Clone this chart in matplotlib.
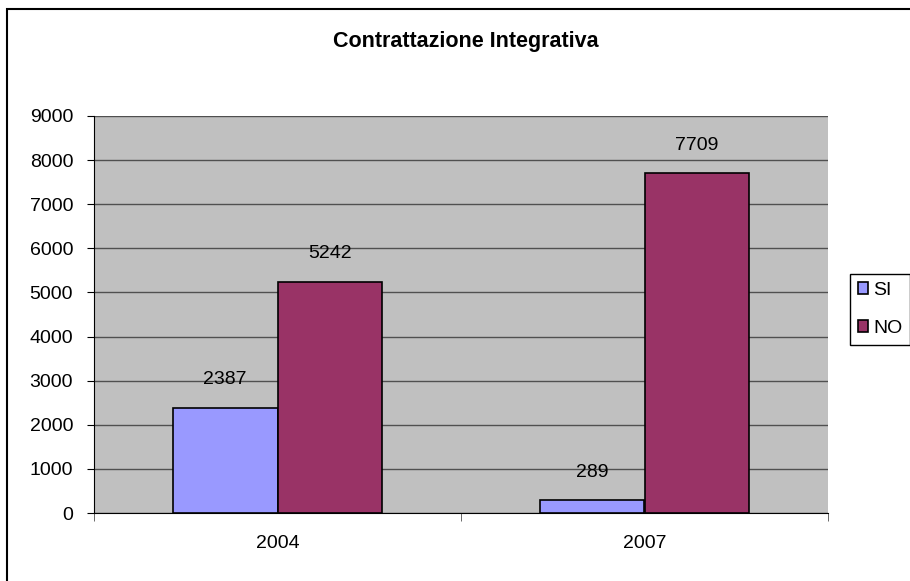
import numpy as np
import matplotlib.pyplot as plt
from matplotlib.patches import Rectangle

plt.rcParams['font.family'] = ['Liberation Sans', 'DejaVu Sans']

anni = ['2004', '2007']
serie = ['SI', 'NO']
valori_si = [2387, 289]
valori_no = [5242, 7709]
colori = ['#9999FF', '#993366']

fig = plt.figure(figsize=(9.1, 5.81), dpi=100)
ax = fig.add_axes([94 / 910, 1 - 513 / 581, (828 - 94) / 910, (513 - 116) / 581])

# cornice esterna del grafico
fig.patches.append(Rectangle((7 / 910, 1 - 590 / 581), 1.0, 1.0, transform=fig.transFigure,
                             fill=False, edgecolor='black', linewidth=1.5))

ax.set_facecolor('#C0C0C0')
x = np.arange(len(anni))
w = 1 / 3.5
for i, (vals, nome) in enumerate(zip([valori_si, valori_no], serie)):
    pos = x + (i - 0.5) * w
    bars = ax.bar(pos, vals, width=w, color=colori[i], edgecolor='black', linewidth=1.2,
                  label=nome, zorder=3)
    for b, v in zip(bars, vals):
        ax.annotate(str(v), (b.get_x() + b.get_width() / 2, v), xytext=(0, 14),
                    textcoords='offset points', ha='center', va='bottom', fontsize=14)

ax.set_xlim(-0.5, 1.5)
ax.set_ylim(0, 9000)
ax.set_yticks(range(0, 9001, 1000))
ax.yaxis.grid(True, color='#505050', linewidth=1, zorder=1)
ax.set_axisbelow(True)

ax.set_xticks(x)
ax.set_xticklabels(anni, fontsize=14)
ax.tick_params(axis='x', length=0, pad=16)
ax.set_xticks([-0.5, 0.5, 1.5], minor=True)
ax.tick_params(axis='x', which='minor', length=6, color='#505050')
ax.tick_params(axis='y', labelsize=14, length=5, pad=10)

for s in ['top', 'right']:
    ax.spines[s].set_visible(False)
ax.spines['left'].set_color('black')
ax.spines['bottom'].set_color('black')

fig.text(466 / 910, 1 - 41 / 581, 'Contrattazione Integrativa', ha='center', va='center',
         fontsize=15.5, fontweight='bold')

leg = fig.legend(loc='upper left', bbox_to_anchor=(850 / 910, 1 - 274 / 581), fontsize=14,
                 fancybox=False, framealpha=1, edgecolor='black', handlelength=0.55,
                 handleheight=0.55, handletextpad=0.25, borderpad=0.4, labelspacing=1.1,
                 borderaxespad=0)
leg.get_frame().set_linewidth(1)

fig.savefig('out.png', dpi=100)
